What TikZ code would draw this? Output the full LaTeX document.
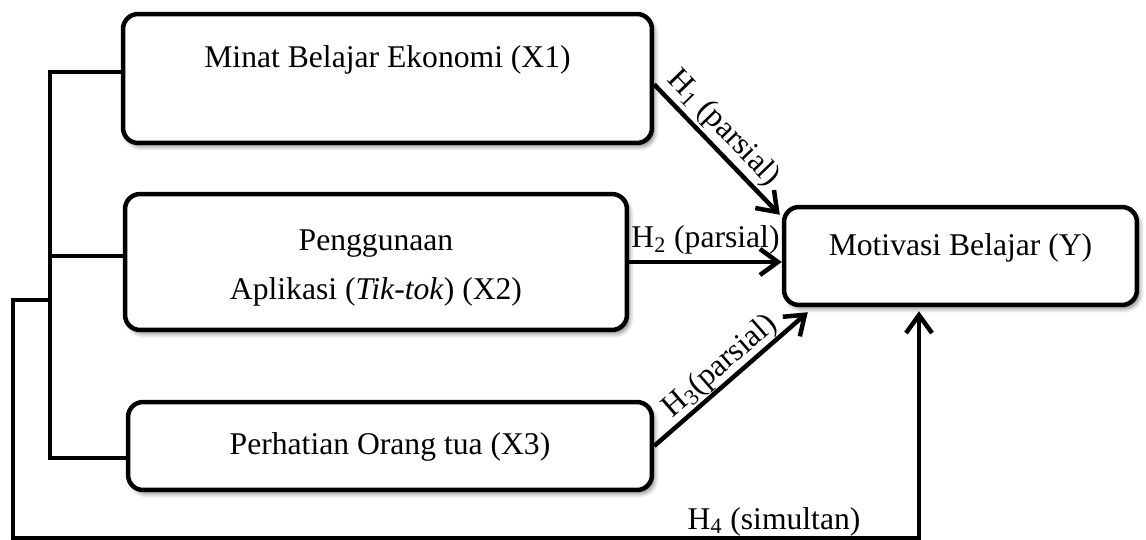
\documentclass[tikz,border=0pt]{standalone}
\usepackage{fontspec}
\setmainfont{Liberation Serif}
\usetikzlibrary{arrows.meta,calc,shadows.blur}
\newcommand{\lifttext}[2]{\raisebox{#1}[0pt][0pt]{#2}}
\begin{document}
\begin{tikzpicture}[x=0.02cm,y=-0.02cm]
	\useasboundingbox (0,0) rectangle (1146,540);
	\begin{scope}[every node/.style={font=\fontsize{18}{21.6}\selectfont},line width=0.09cm]
		\tikzstyle{varbox}=[draw,fill=white,rounded corners=0.3cm,inner sep=0pt,blur shadow={shadow xshift=0.06cm,shadow yshift=-0.08cm,shadow blur radius=0.08cm,shadow opacity=45}];
		\tikzstyle{hyp}=[-{Straight Barb[length=0.36cm,width=0.52cm]}];
		\path (387.5, 78.5) node [varbox,minimum width=10.58cm,minimum height=2.58cm] (minat) {\lifttext{0.21cm}{Minat Belajar Ekonomi (X1)}};
		\path (376  ,262  ) node [varbox,minimum width=10.04cm,minimum height=2.72cm] (aplikasi) {\lifttext{-0.76cm}{\begin{tabular}[b]{@{}c@{}}Penggunaan\\[6.6pt]Aplikasi (\textit{Tik-tok}) (X2)\end{tabular}}};
		\path (390  ,446  ) node [varbox,minimum width=10.48cm,minimum height=1.76cm] (ortu) {\lifttext{-0.18cm}{Perhatian Orang tua (X3)}};
		\path (960.5,256  ) node [varbox,minimum width=7.06cm,minimum height=1.96cm] (motivasi) {\lifttext{0cm}{Motivasi Belajar (Y)}};
		\coordinate (b1) at (50,72);
		\coordinate (b2) at (50,256);
		\coordinate (b3) at (50,458);
		\coordinate (b4) at (50,300);
		\coordinate (o1) at (13,538);
		\coordinate (yin) at (919,538);
		\draw (minat.west |- b1) -- (b1) -- (b3) -- (ortu.west |- b3);
		\draw (aplikasi.west |- b2) -- (b2);
		\draw[hyp] ([yshift=-0.12cm]minat.east) -- ($(motivasi.north west)+(-2,10)$) node [pos=0.44,above,sloped,inner sep=1.5pt] {H\textsubscript{1} (parsial)};
		\draw[hyp] (aplikasi.east) -- (aplikasi.east -| motivasi.west) node [midway,above,inner sep=3pt] {H\textsubscript{2} (parsial)};
		\draw[hyp] (ortu.east) -- ($(motivasi.south west)+(26,5)$) node [pos=0.5,above,sloped,inner sep=0pt] {H\textsubscript{3}(parsial)};
		\draw[hyp,shorten >=0.08cm] (b4) -| (o1) -- (yin) node [pos=0.84,above,inner sep=0pt] {H\textsubscript{4} (simultan)} -- (yin |- motivasi.south);
	\end{scope}
\end{tikzpicture}
\end{document}
